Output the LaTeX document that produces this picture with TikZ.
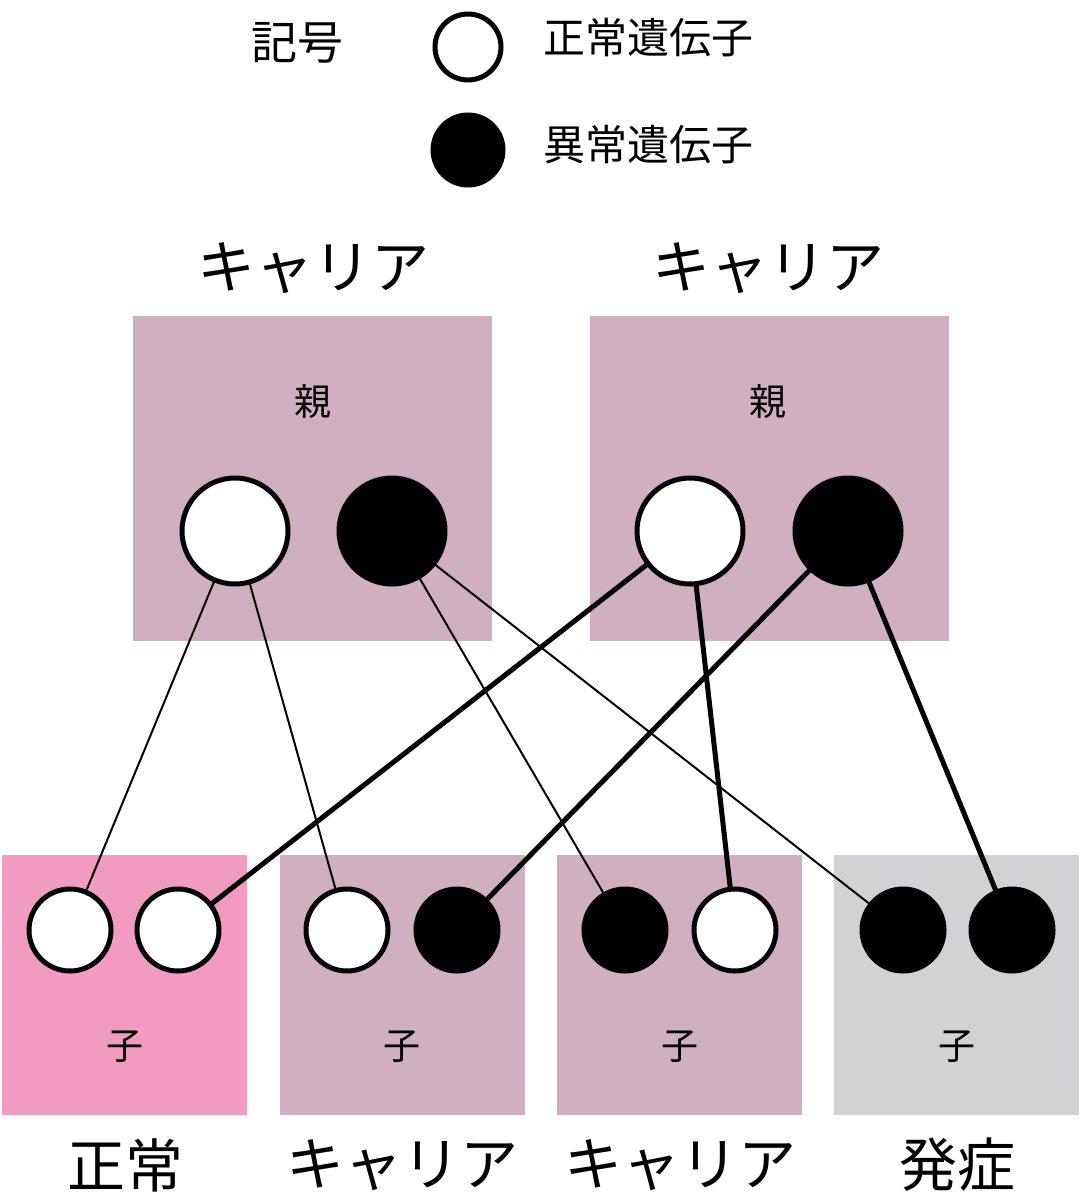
\documentclass[tikz,border=0pt]{standalone}
\usepackage{fontspec}
\setmainfont{Noto Sans CJK JP}
\definecolor{boxp}{HTML}{CFAFC0}
\definecolor{boxpink}{HTML}{F29BC1}
\definecolor{boxgray}{HTML}{D1D2D4}
\begin{document}
\begin{tikzpicture}[x=1pt,y=-1pt,
  wc/.style={circle,draw=black,fill=white,line width=5pt,minimum size=#1,inner sep=0},
  bc/.style={circle,draw=black,fill=black,line width=5pt,minimum size=#1,inner sep=0},
  thin/.style={line width=2pt},
  thick/.style={line width=5pt},
  big/.style={font=\fontsize{58}{58}\selectfont},
  mid/.style={font=\fontsize{46}{46}\selectfont},
  leg/.style={font=\fontsize{42}{42}\selectfont},
  sm/.style={font=\fontsize{37}{37}\selectfont}]
\useasboundingbox (0,0) rectangle (1080,1198);
% legend
\node[mid] (kigou) at (297,43) {記号};
\node[wc=66pt] (lw) at (468,47) {};
\node[bc=70pt] (lb) at (468,150) {};
\node[leg,anchor=west] (lwt) at (540,38) {正常遺伝子};
\node[leg,anchor=west] (lbt) at (540,145) {異常遺伝子};
% parents
\fill[boxp] (133,316) rectangle (492,641);
\fill[boxp] (590,316) rectangle (949,641);
\node[big] (pl) at (313,268) {キャリア};
\node[big] (pr) at (768,268) {キャリア};
\node[sm] (oya1) at (313,402) {親};
\node[sm] (oya2) at (768,402) {親};
% children boxes
\fill[boxpink] (2,855) rectangle (247,1115);
\fill[boxp] (280,855) rectangle (525,1115);
\fill[boxp] (557,855) rectangle (802,1115);
\fill[boxgray] (834,855) rectangle (1079,1115);
\foreach \x/\n in {125/1,402/2,680/3,957/4}{\node[sm] (ko\n) at (\x,1047) {子};}
\node[big] (l1) at (125,1165) {正常};
\node[big] (l2) at (402,1165) {キャリア};
\node[big] (l3) at (680,1165) {キャリア};
\node[big] (l4) at (957,1165) {発症};
% circle positions
\coordinate (A) at (235,531); \coordinate (B) at (392,531);
\coordinate (C) at (690,531); \coordinate (D) at (848,531);
\coordinate (c1) at (70,930); \coordinate (c2) at (178,930);
\coordinate (c3) at (347,930); \coordinate (c4) at (457,930);
\coordinate (c5) at (625,930); \coordinate (c6) at (735,930);
\coordinate (c7) at (903,930); \coordinate (c8) at (1012,930);
% lines
\draw[thin] (A) -- (c1); \draw[thin] (A) -- (c3);
\draw[thin] (B) -- (c5); \draw[thin] (B) -- (c7);
\draw[thick] (C) -- (c2); \draw[thick] (C) -- (c6);
\draw[thick] (D) -- (c4); \draw[thick] (D) -- (c8);
% circles
\node[wc=106pt] (pA) at (A) {}; \node[bc=106pt] (pB) at (B) {};
\node[wc=106pt] (pC) at (C) {}; \node[bc=106pt] (pD) at (D) {};
\node[wc=82pt] (k1) at (c1) {}; \node[wc=82pt] (k2) at (c2) {};
\node[wc=82pt] (k3) at (c3) {}; \node[bc=82pt] (k4) at (c4) {};
\node[bc=82pt] (k5) at (c5) {}; \node[wc=82pt] (k6) at (c6) {};
\node[bc=82pt] (k7) at (c7) {}; \node[bc=82pt] (k8) at (c8) {};
\end{tikzpicture}
\end{document}
